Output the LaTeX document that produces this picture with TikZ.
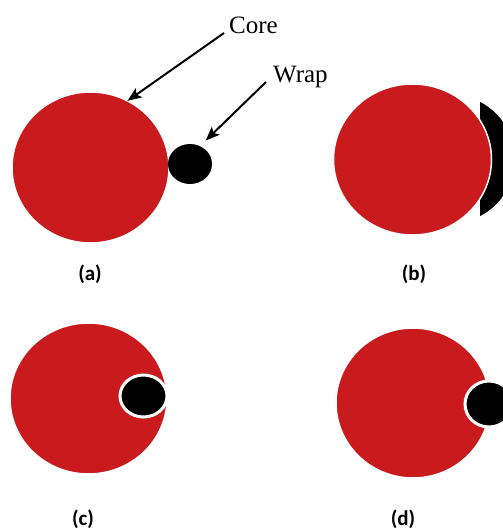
\documentclass[tikz,border=0pt]{standalone}
\usepackage{fontspec}
\setmainfont{Liberation Serif}
\newfontfamily\capfont{Carlito}
\usetikzlibrary{arrows.meta,shapes.geometric,positioning}
\definecolor{corered}{RGB}{201,26,29}

\begin{document}
\begin{tikzpicture}[
  x=1pt, y=-1pt,
  >={Stealth[length=14pt,width=11pt,inset=3pt]},
  core/.style={ellipse,fill=corered,draw=white,line width=1.5pt,
               inner sep=0pt,outer sep=0pt},
  wrap/.style={ellipse,fill=black,inner sep=0pt,outer sep=0pt},
  inwrap/.style={wrap,draw=white,line width=3pt},
  tag/.style={font=\fontsize{25}{30}\selectfont,inner sep=2pt},
  sub/.style={font=\capfont\bfseries\fontsize{21}{25}\selectfont},
  pointer/.style={->,line width=2pt}
]
\useasboundingbox (0,0) rectangle (503,530);

%% (a) core with the wrap beside it
\node[core,minimum width=157pt,minimum height=151pt] (coreA) at (90.5,167.5) {};
\node[wrap,minimum width=44pt,minimum height=40pt]   (wrapA) at (190,164) {};
\node[tag,anchor=base west] (coreLbl) at (227,33) {Core};
\node[tag,anchor=base west] (wrapLbl) at (271,82) {Wrap};
\draw[pointer] ([xshift=-3pt]coreLbl.base west) -- (coreA.61);
\draw[pointer,shorten >=8pt] ([xshift=-5pt]wrapLbl.base west) -- (wrapA.61);
\node[sub] (subA) at (90,274) {(a)};

%% (b) wrap spread round the core
\begin{scope}
  \clip (480,0) rectangle (503,530);
  \fill (450.6,159) circle [radius=64.2pt];
\end{scope}
\node[core,minimum width=158pt,minimum height=151pt] (coreB) at (412.5,159.5) {};
\node[sub] (subB) at (414,274) {(b)};

%% (c) wrap sunk inside the core
\node[core,minimum width=157pt,minimum height=151pt] (coreC) at (88.5,398.5) {};
\node[inwrap,minimum width=47pt,minimum height=42pt]  (wrapC) at (143.5,396) {};
\node[sub] (subC) at (83,519) {(c)};

%% (d) wrap half out of the core
\node[core,minimum width=154pt,minimum height=150pt] (coreD) at (413,403) {};
\begin{scope}
  \clip (0,0) rectangle (503,530);
  \node[inwrap,minimum width=48pt,minimum height=46pt] (wrapD) at (489,404) {};
\end{scope}
\node[sub] (subD) at (403,519) {(d)};

\end{tikzpicture}
\end{document}
